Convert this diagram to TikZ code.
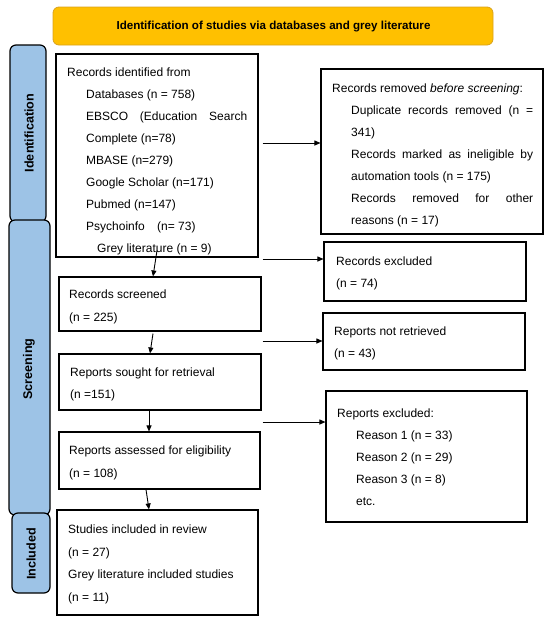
\documentclass[tikz,border=0pt]{standalone}
\usepackage{fontspec}
\setmainfont{Liberation Sans}
\usetikzlibrary{arrows.meta,fit,calc}
\definecolor{prismaorange}{HTML}{FFC000}
\definecolor{prismaorangedark}{HTML}{D9A21B}
\definecolor{prismablue}{HTML}{9DC3E6}
\tikzset{
  box/.style={draw=black, line width=1.1pt, inner sep=0pt, rectangle},
  titlebox/.style={draw=prismaorangedark, fill=prismaorange, line width=0.8pt, rounded corners=6pt, inner sep=0pt,
    font=\bfseries\fontsize{11.5}{13}\selectfont},
  sidebox/.style={draw=black, fill=prismablue, line width=1.2pt, rounded corners=6pt, inner sep=0pt},
  sidetxt/.style={rotate=90, font=\bfseries\fontsize{12.6}{14}\selectfont, inner sep=0pt},
  txt/.style={anchor=north west, inner sep=0pt, align=left, font=\fontsize{12}{22}\selectfont},
  txtb/.style={anchor=north west, inner sep=0pt, align=left, font=\fontsize{12}{22.7}\selectfont},
  arr/.style={line width=0.9pt, -{Triangle[length=6pt,width=5pt]}},
}
\newcommand{\ind}{\hspace*{19pt}}
\begin{document}
\begin{tikzpicture}[x=1pt,y=-1pt]
\useasboundingbox (0,0) rectangle (550,619);

% title
\node[titlebox, fit={(53,7) (493,45)}] (title) {};
\node[inner sep=0pt, font=\bfseries\fontsize{11.6}{13}\selectfont] (titletxt) at (273.5,26.5)
  {Identification of studies via databases and grey literature};

% side bars
\node[sidebox, fit={(10,45) (46,222)}] (ident) {};
\node[sidebox, fit={(9,220) (50,515)}] (screen) {};
\node[sidebox, fit={(12,513) (50,593)}] (incl) {};
\node[sidetxt] (identtxt) at (29,133) {Identification};
\node[sidetxt] (screentxt) at (29,369) {Screening};
\node[sidetxt] (incltxt) at (31,554) {Included};

% boxes
\node[box, fit={(56,54) (258,257)}] (b1) {};
\node[box, fit={(321,69) (543,234)}] (rem) {};
\node[box, fit={(59,277) (261,331)}] (scr) {};
\node[box, fit={(324,242) (526,301)}] (rexcl) {};
\node[box, fit={(59,354) (261,410)}] (sought) {};
\node[box, fit={(323,313) (525,370)}] (notret) {};
\node[box, fit={(59,432) (260,489)}] (assess) {};
\node[box, fit={(326,391) (527,522)}] (repexcl) {};
\node[box, fit={(57,510) (258,615)}] (included) {};

% texts
\node[txt] (t1) at (67,67) {\rule{0pt}{9pt}Records identified from\\
\ind Databases (n = 758)\\
\ind\makebox[161pt][s]{EBSCO (Education Search}\\
\ind Complete (n=78)\\
\ind MBASE (n=279)\\
\ind Google Scholar (n=171)\\
\ind Pubmed (n=147)\\
\ind Psychoinfo\hspace{9pt} (n= 73)\\
\hspace*{30pt}Grey literature (n = 9)};

\node[txt] (t2) at (332,83) {\rule{0pt}{9pt}Records removed \textit{before screening}:\\
\ind\makebox[182pt][s]{Duplicate records removed (n =}\\
\ind 341)\\
\ind\makebox[182pt][s]{Records marked as ineligible by}\\
\ind automation tools (n = 175)\\
\ind\makebox[182pt][s]{Records removed for other}\\
\ind reasons (n = 17)};

\node[txtb] (t3) at (69,289.3) {\rule{0pt}{9pt}Records screened\\(n = 225)};
\node[txt] (t4) at (336,256.3) {\rule{0pt}{9pt}Records excluded\\(n = 74)};
\node[txtb] (t5) at (70,367) {\rule{0pt}{9pt}Reports sought for retrieval\\(n =151)};
\node[txt] (t6) at (334,326.3) {\rule{0pt}{9pt}Reports not retrieved\\(n = 43)};
\node[txtb] (t7) at (69,445.3) {\rule{0pt}{9pt}Reports assessed for eligibility\\(n = 108)};
\node[txt] (t8) at (337,408.3) {\rule{0pt}{9pt}Reports excluded:\\
\ind Reason 1 (n = 33)\\
\ind Reason 2 (n = 29)\\
\ind Reason 3 (n = 8)\\
\ind etc.};
\node[txtb] (t9) at (68,524.3) {\rule{0pt}{9pt}Studies included in review\\
(n = 27)\\
Grey literature included studies\\
(n = 11)};

% horizontal arrows
\coordinate (y1) at (0,143);
\coordinate (y2) at (0,259);
\coordinate (y3) at (0,341);
\coordinate (y4) at (0,422);
\draw[arr] ([xshift=4pt]b1.east |- y1) -- (rem.west |- y1);
\draw[arr] ([xshift=4pt]b1.east |- y2) -- (rexcl.west |- y2);
\draw[arr] ([xshift=1pt]scr.east |- y3) -- (notret.west |- y3);
\draw[arr] ([xshift=1pt]sought.east |- y4) -- (repexcl.west |- y4);

% vertical arrows
\draw[arr] ([yshift=7pt]b1.south) -- ([xshift=-7pt]scr.north);
\draw[arr] ([xshift=-7pt,yshift=-2pt]scr.south) -- ([xshift=-10pt]sought.north);
\draw[arr] ([xshift=-11pt]sought.south) -- ([xshift=-10.5pt]assess.north);
\draw[arr] ([xshift=-13.5pt]assess.south) -- ([xshift=-8.5pt]included.north);
\end{tikzpicture}
\end{document}
